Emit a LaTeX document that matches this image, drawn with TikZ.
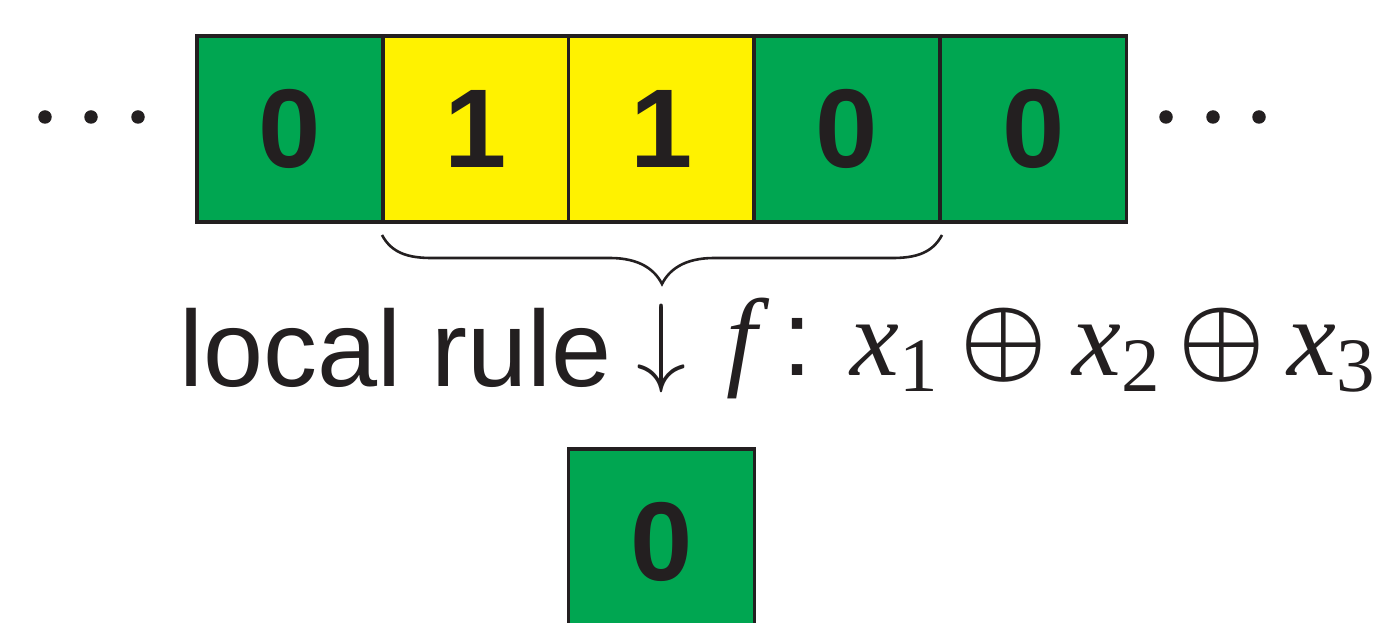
\documentclass[tikz,border=0pt]{standalone}
\usepackage{fix-cm}
\usepackage{fontspec}
\setmainfont{Liberation Sans}
\newfontfamily\tms{Liberation Serif}
\definecolor{ink}{RGB}{35,31,32}
\definecolor{cgreen}{RGB}{0,166,81}
\definecolor{cyellow}{RGB}{255,242,0}
\begin{document}
\begin{tikzpicture}[x=1pt,y=1pt,
  cell/.style={draw=ink, line width=3.3pt, minimum width=186pt, minimum height=186pt, inner sep=0pt,
    font=\fontsize{112}{112}\selectfont\bfseries, text=ink},
  gcell/.style={cell, fill=cgreen},
  ycell/.style={cell, fill=cyellow},
  lbl/.style={inner sep=0pt, text=ink, anchor=base west},
  sym/.style={inner sep=0pt, text=ink},
  opsym/.style={sym, font=\fontsize{97}{97}\selectfont\mathversion{bold}},
  dotn/.style={circle, fill=ink, inner sep=0pt, minimum size=13.5pt},
  bracestyle/.style={draw=ink, line width=2.6pt}]
\useasboundingbox (0,0) rectangle (1382,622);
\clip (0,0) rectangle (1382,622);
% cells
\node[gcell] (c1) at (290,493) {0};
\node[ycell] (c2) at (476,493) {1};
\node[ycell] (c3) at (661.5,493) {1};
\node[gcell] (c4) at (847,493) {0};
\node[gcell] (c5) at (1033.5,493) {0};
\node[gcell] (out) at (661.5,80) {0};
% dots
\node[dotn] (l1) at (45,505) {};
\node[dotn] (l2) at (91,505) {};
\node[dotn] (l3) at (138,505) {};
\node[dotn] (r1) at (1166,505) {};
\node[dotn] (r2) at (1213,505) {};
\node[dotn] (r3) at (1259,505) {};
% brace
\draw[bracestyle] (382,387) .. controls (392,368) and (410,364) .. (432,364) -- (610,364)
  .. controls (640,364) and (655,352) .. (662,338)
  .. controls (669,352) and (684,364) .. (714,364) -- (892,364)
  .. controls (914,364) and (932,368) .. (942,387);
% label text
\node[lbl] (lr) at (179,235) {\fontsize{108}{108}\selectfont local rule};
\node[sym] (arr) at (661,273.5) {\fontsize{100}{100}\selectfont$\downarrow$};
\node[lbl] (fn) at (726,246) {\fontsize{110}{110}\selectfont\tms\itshape f};
\node[lbl] (col) at (782,246) {\fontsize{108}{108}\selectfont :};
\node[lbl] (x1) at (850,246) {\fontsize{110}{110}\selectfont\tms\itshape x\raisebox{-16pt}{\fontsize{77}{77}\selectfont\upshape 1}};
\node[opsym] (op1) at (1003.5,276.5) {$\oplus$};
\node[lbl] (x2) at (1072,246) {\fontsize{110}{110}\selectfont\tms\itshape x\raisebox{-16pt}{\fontsize{77}{77}\selectfont\upshape 2}};
\node[opsym] (op2) at (1221.5,276.5) {$\oplus$};
\node[lbl] (x3) at (1287,246) {\fontsize{110}{110}\selectfont\tms\itshape x\raisebox{-16pt}{\fontsize{77}{77}\selectfont\upshape 3}};
\end{tikzpicture}
\end{document}
